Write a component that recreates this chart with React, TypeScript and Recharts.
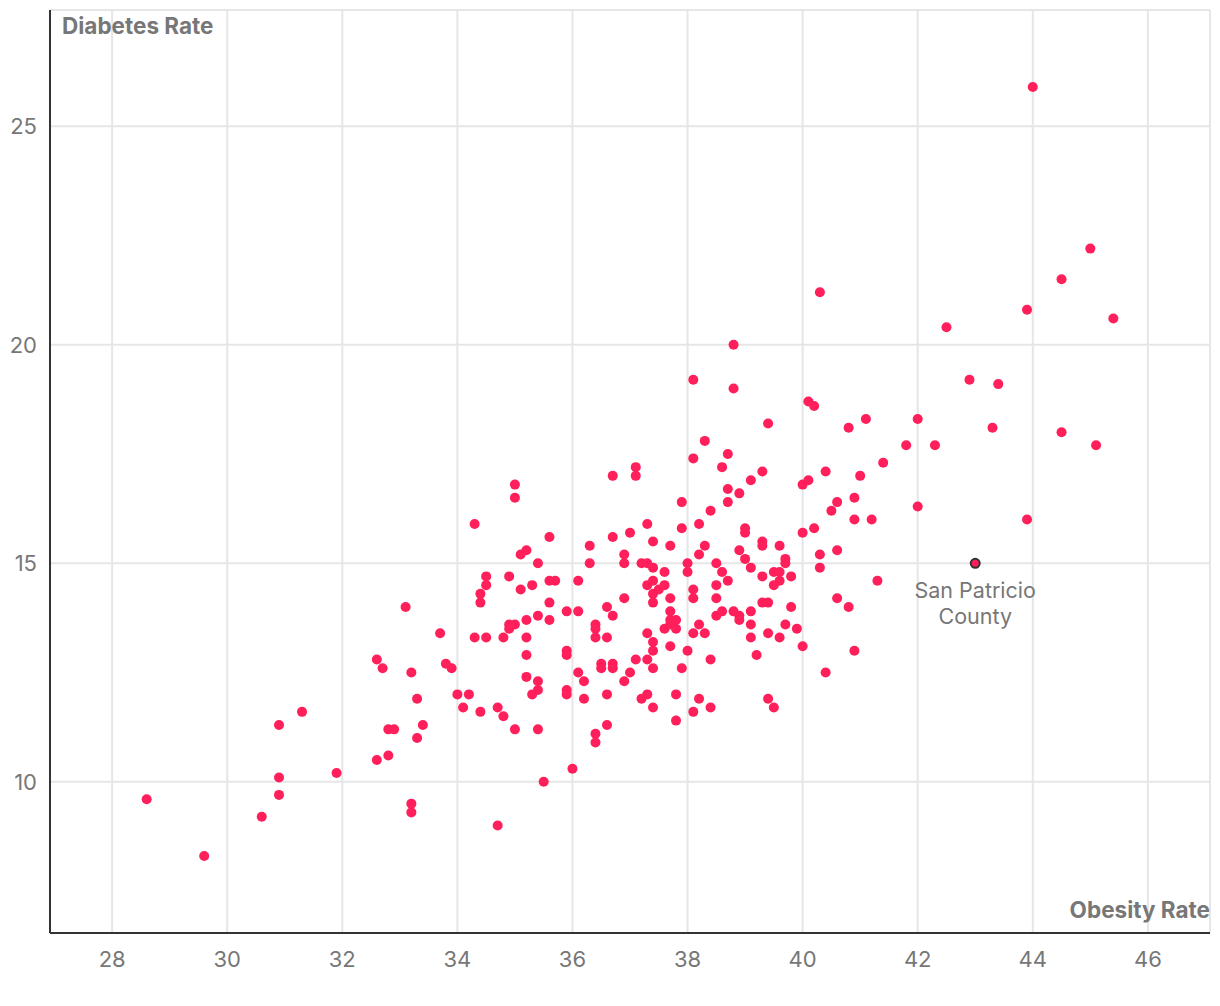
import React from 'react';
import { ScatterChart, Scatter, XAxis, YAxis, CartesianGrid } from 'recharts';

// county values: [obesity rate, diabetes rate]
const counties: [number, number][] = [
  [28.6, 9.6], [29.6, 8.3], [30.6, 9.2], [30.9, 11.3], [30.9, 10.1], [30.9, 9.7],
  [31.3, 11.6], [31.9, 10.2], [32.6, 12.8], [32.7, 12.6], [32.6, 10.5], [32.8, 10.6],
  [32.8, 11.2], [32.9, 11.2], [33.1, 14.0], [33.2, 12.5], [33.2, 9.5], [33.2, 9.3],
  [33.3, 11.9], [33.3, 11.0], [33.4, 11.3], [33.7, 13.4], [33.8, 12.7], [33.9, 12.6],
  [34.0, 12.0], [34.1, 11.7], [34.2, 12.0], [34.3, 15.9], [34.3, 13.3], [34.4, 14.3],
  [34.4, 14.1], [34.4, 11.6], [34.5, 14.7], [34.5, 14.5], [34.5, 13.3], [34.7, 11.7],
  [34.7, 9.0], [34.8, 13.3], [34.8, 11.5], [34.9, 14.7], [34.9, 13.6], [34.9, 13.5],
  [35.0, 16.8], [35.0, 16.5], [35.0, 13.6], [35.0, 11.2], [35.1, 15.2], [35.1, 14.4],
  [35.2, 15.3], [35.2, 13.7], [35.2, 13.3], [35.2, 12.9], [35.2, 12.4], [35.3, 14.5],
  [35.3, 12.0], [35.4, 15.0], [35.4, 13.8], [35.4, 12.3], [35.4, 12.1], [35.4, 11.2],
  [35.5, 10.0], [35.6, 15.6], [35.6, 14.6], [35.7, 14.6], [35.6, 14.1], [35.6, 13.7],
  [35.9, 13.9], [35.9, 13.0], [35.9, 12.9], [35.9, 12.1], [35.9, 12.0], [36.0, 10.3],
  [36.1, 14.6], [36.1, 13.9], [36.1, 12.5], [36.2, 12.3], [36.2, 11.9], [36.3, 15.4],
  [36.3, 15.0], [36.4, 13.6], [36.4, 13.5], [36.4, 13.3], [36.4, 11.1], [36.4, 10.9],
  [36.5, 12.7], [36.5, 12.6], [36.6, 14.0], [36.6, 13.3], [36.6, 12.0], [36.6, 11.3],
  [36.7, 17.0], [36.7, 15.6], [36.7, 13.8], [36.7, 12.7], [36.7, 12.6], [36.9, 15.2],
  [36.9, 15.0], [36.9, 14.2], [36.9, 12.3], [37.0, 15.7], [37.0, 12.5], [37.1, 17.2],
  [37.1, 17.0], [37.1, 12.8], [37.2, 15.0], [37.2, 11.9], [37.3, 15.9], [37.3, 15.0],
  [37.3, 14.5], [37.3, 13.4], [37.3, 12.8], [37.3, 12.0], [37.4, 15.5], [37.4, 14.9],
  [37.4, 14.6], [37.4, 14.3], [37.4, 14.1], [37.4, 13.2], [37.4, 13.0], [37.4, 12.6],
  [37.4, 11.7], [37.5, 14.4], [37.6, 14.8], [37.6, 14.5], [37.6, 13.5], [37.7, 15.4],
  [37.7, 14.2], [37.7, 13.9], [37.7, 13.7], [37.7, 13.6], [37.7, 13.1], [37.8, 13.7],
  [37.8, 13.5], [37.8, 12.0], [37.8, 11.4], [37.9, 16.4], [37.9, 15.8], [37.9, 12.6],
  [38.0, 15.0], [38.0, 14.8], [38.0, 13.0], [38.1, 19.2], [38.1, 17.4], [38.1, 14.4],
  [38.1, 14.2], [38.1, 13.4], [38.1, 11.6], [38.2, 15.9], [38.2, 15.2], [38.2, 13.6],
  [38.2, 11.9], [38.3, 17.8], [38.3, 15.4], [38.3, 13.4], [38.4, 16.2], [38.4, 12.8],
  [38.4, 11.7], [38.5, 15.0], [38.5, 14.5], [38.5, 14.2], [38.5, 13.8], [38.6, 17.2],
  [38.6, 14.8], [38.6, 13.9], [38.7, 17.5], [38.7, 16.7], [38.7, 16.4], [38.7, 14.6],
  [38.8, 20.0], [38.8, 19.0], [38.8, 13.9], [38.9, 16.6], [38.9, 15.3], [38.9, 13.8],
  [38.9, 13.7], [39.0, 15.8], [39.0, 15.7], [39.0, 15.1], [39.1, 16.9], [39.1, 14.9],
  [39.1, 13.9], [39.1, 13.6], [39.1, 13.3], [39.2, 12.9], [39.3, 17.1], [39.3, 15.5],
  [39.3, 15.4], [39.3, 14.7], [39.3, 14.1], [39.4, 18.2], [39.4, 14.1], [39.4, 13.4],
  [39.4, 11.9], [39.5, 14.8], [39.5, 14.5], [39.5, 11.7], [39.6, 15.4], [39.6, 14.8],
  [39.6, 14.6], [39.6, 13.3], [39.7, 15.1], [39.7, 15.0], [39.7, 13.6], [39.8, 14.7],
  [39.8, 14.0], [39.9, 13.5], [40.0, 16.8], [40.0, 15.7], [40.0, 13.1], [40.1, 18.7],
  [40.1, 16.9], [40.2, 18.6], [40.2, 15.8], [40.3, 21.2], [40.3, 15.2], [40.3, 14.9],
  [40.4, 17.1], [40.4, 12.5], [40.5, 16.2], [40.6, 16.4], [40.6, 15.3], [40.6, 14.2],
  [40.8, 18.1], [40.8, 14.0], [40.9, 16.5], [40.9, 16.0], [40.9, 13.0], [41.0, 17.0],
  [41.1, 18.3], [41.2, 16.0], [41.3, 14.6], [41.4, 17.3], [41.8, 17.7], [42.0, 18.3],
  [42.0, 16.3], [42.3, 17.7], [42.5, 20.4], [42.9, 19.2], [43.3, 18.1], [43.4, 19.1],
  [43.9, 20.8], [43.9, 16.0], [44.0, 25.9], [44.5, 21.5], [44.5, 18.0], [45.0, 22.2],
  [45.1, 17.7], [45.4, 20.6],
];

const highlightName = ['San Patricio', 'County'];
const highlightValue: [number, number] = [43.0, 15.0];

const xTicks = [28, 30, 32, 34, 36, 38, 40, 42, 44, 46];
const yTicks = [10, 15, 20, 25];

const points = counties.map(([x, y]) => ({ x, y }));
const highlight = [{ x: highlightValue[0], y: highlightValue[1] }];

const allX = [...counties.map((d) => d[0]), highlightValue[0]];
const allY = [...counties.map((d) => d[1]), highlightValue[1]];
const pad = (vals: number[]): [number, number] => {
  const min = Math.min(...vals);
  const max = Math.max(...vals);
  const r = max - min;
  return [min - r * 0.1, max + r * 0.1];
};

const PINK = '#ff1f5b';
const GREY = '#777';
const tick = { fill: GREY, fontSize: 22, fontFamily: 'Inter' };

const Dot = (props: any) => <circle cx={props.cx} cy={props.cy} r={5} fill={PINK} />;

const HighlightDot = (props: any) => (
  <g>
    <circle cx={props.cx} cy={props.cy} r={4.5} fill={PINK} stroke="#333" strokeWidth={2} />
    <text x={props.cx} y={props.cy + 35} textAnchor="middle" fill={GREY} fontSize={21.5} fontFamily="Inter">
      {highlightName[0]}
    </text>
    <text x={props.cx} y={props.cy + 61} textAnchor="middle" fill={GREY} fontSize={21.5} fontFamily="Inter">
      {highlightName[1]}
    </text>
  </g>
);

export default function App() {
  return (
    <div style={{ position: 'absolute', left: 0, top: 0, fontFamily: 'Inter' }}>
      <ScatterChart width={1220} height={1006} margin={{ top: 10, right: 10, bottom: 33, left: 0 }}>
        <CartesianGrid stroke="#e6e6e6" strokeWidth={2} />
        <XAxis
          type="number"
          dataKey="x"
          domain={pad(allX)}
          ticks={xTicks}
          height={40}
          tick={tick}
          tickLine={false}
          tickMargin={12}
          axisLine={{ stroke: '#333', strokeWidth: 2 }}
          label={{
            content: (p: any) => (
              <text
                x={p.viewBox.x + p.viewBox.width}
                y={p.viewBox.y - 15}
                textAnchor="end"
                fill={GREY}
                fontSize={22.5}
                fontWeight={700}
                fontFamily="Inter"
              >
                Obesity Rate
              </text>
            ),
          }}
        />
        <YAxis
          type="number"
          dataKey="y"
          domain={pad(allY)}
          ticks={yTicks}
          width={50}
          tick={tick}
          tickLine={false}
          tickMargin={7}
          axisLine={{ stroke: '#333', strokeWidth: 2 }}
          label={{
            content: (p: any) => (
              <text
                x={p.viewBox.x + p.viewBox.width + 12}
                y={p.viewBox.y + 24}
                textAnchor="start"
                fill={GREY}
                fontSize={22.5}
                fontWeight={700}
                fontFamily="Inter"
              >
                Diabetes Rate
              </text>
            ),
          }}
        />
        <Scatter data={points} shape={Dot} isAnimationActive={false} />
        <Scatter data={highlight} shape={HighlightDot} isAnimationActive={false} />
      </ScatterChart>
    </div>
  );
}
